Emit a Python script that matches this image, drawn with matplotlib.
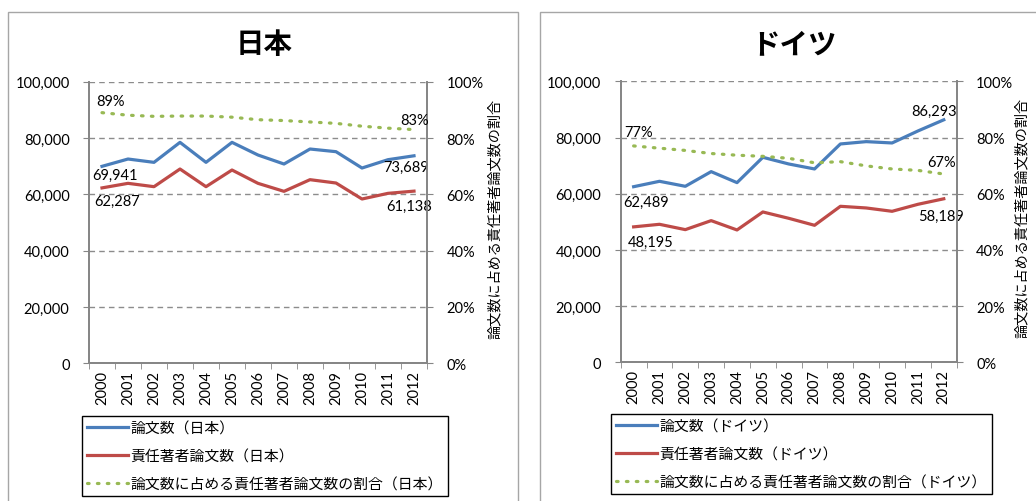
import matplotlib
matplotlib.use("Agg")
import matplotlib.pyplot as plt
from matplotlib.patches import Rectangle
from matplotlib.ticker import FuncFormatter, MultipleLocator, FixedLocator

plt.rcParams['font.family'] = ['Lato', 'Noto Sans CJK JP', 'DejaVu Sans']

years = [str(y) for y in range(2000, 2013)]

jp_total = [69941, 72544, 71360, 78462, 71360, 78462, 73964, 70769, 76095, 75148, 69349, 72308, 73689]
jp_corr = [62287, 63905, 62722, 68994, 62722, 68639, 63905, 61065, 65207, 64024, 58343, 60355, 61138]
jp_ratio = [0.89, 0.881, 0.877, 0.878, 0.878, 0.874, 0.865, 0.862, 0.857, 0.852, 0.842, 0.835, 0.83]

de_total = [62489, 64413, 62633, 67853, 63938, 72954, 70581, 68802, 77699, 78529, 78055, 82325, 86293]
de_corr = [48195, 49110, 47212, 50415, 47094, 53499, 51246, 48754, 55516, 54923, 53737, 56228, 58189]
de_ratio = [0.77, 0.762, 0.754, 0.743, 0.737, 0.733, 0.726, 0.71, 0.714, 0.699, 0.688, 0.683, 0.67]

panels = [
    dict(title='日本', name='日本', total=jp_total, corr=jp_corr, ratio=jp_ratio,
         ax_px=(89, 82.7, 427, 364.3), frame=(8, 13, 518), ylabel_x=495,
         legend_px=(82, 417),
         labels=[('total', 0, (13, -9)), ('corr', 0, (15, -13)), ('ratio', 0, (8, 12)),
                 ('total', 12, (-8, -11)), ('corr', 12, (-5, -15)), ('ratio', 12, (1, 10))]),
    dict(title='ドイツ', name='ドイツ', total=de_total, corr=de_corr, ratio=de_ratio,
         ax_px=(620.7, 82.3, 956.7, 363.3), frame=(540, 13, 1045), ylabel_x=1021.5,
         legend_px=(611, 415),
         labels=[('total', 0, (12, -15)), ('corr', 0, (17, -15)), ('ratio', 0, (5, 14)),
                 ('total', 12, (-10, 9)), ('corr', 12, (-3, -17)), ('ratio', 12, (-2, 12))]),
]

W, H = 1036, 502
fig = plt.figure(figsize=(W / 100, H / 100), dpi=100)

blue = '#4a7ebb'
red = '#be4b48'
green = '#98b954'
grid_c = '#8c8c8c'
spine_c = '#868686'
PT = 0.72  # points per pixel at dpi 100

for p in panels:
    fx0, fy0, fx1 = p['frame']
    fig.patches.append(Rectangle((fx0 / W, 0 - 0.05), (fx1 - fx0) / W, 1 - fy0 / H + 0.05,
                                 transform=fig.transFigure, fill=False,
                                 edgecolor='#a6a6a6', linewidth=1.0, clip_on=False))
    x0, y0, x1, y1 = p['ax_px']
    ax = fig.add_axes([x0 / W, 1 - y1 / H, (x1 - x0) / W, (y1 - y0) / H])
    ax2 = ax.twinx()
    xs = list(range(len(years)))
    l1, = ax.plot(xs, p['total'], color=blue, lw=2.3, solid_joinstyle='round')
    l2, = ax.plot(xs, p['corr'], color=red, lw=2.3, solid_joinstyle='round')
    l3, = ax2.plot(xs, p['ratio'], color=green, lw=2.3, linestyle=(0, (0.5, 2.6)),
                   dash_capstyle='round')
    ax.set_ylim(0, 100000)
    ax2.set_ylim(0, 1.0)
    ax.set_xlim(-0.5, len(years) - 0.5)
    ax.yaxis.set_major_locator(MultipleLocator(20000))
    ax2.yaxis.set_major_locator(MultipleLocator(0.2))
    ax.yaxis.set_major_formatter(FuncFormatter(lambda v, _: f'{int(v):,}'))
    ax2.yaxis.set_major_formatter(FuncFormatter(lambda v, _: f'{v*100:.0f}%'))
    ax.set_xticks(xs)
    ax.set_xticklabels(years, rotation=90, fontsize=10.5)
    ax.xaxis.set_minor_locator(FixedLocator([i - 0.5 for i in range(len(years) + 1)]))
    ax.tick_params(axis='x', which='major', length=0, pad=5)
    ax.tick_params(axis='x', which='minor', length=4, color=spine_c, direction='out')
    ax.tick_params(axis='y', length=4, color=spine_c, labelsize=10.5, pad=10)
    ax2.tick_params(axis='y', length=4, color=spine_c, labelsize=10.5, pad=10)
    ax.grid(axis='y', color=grid_c, linestyle=(0, (4, 3)), linewidth=1.0)
    ax.set_axisbelow(True)
    for a in (ax, ax2):
        a.spines['top'].set_visible(False)
        for s in ('left', 'right', 'bottom'):
            a.spines[s].set_color(spine_c)
            a.spines[s].set_linewidth(1.3)
    fig.text((fx0 + fx1) / 2 / W + 0.001, 1 - 45 / H, p['title'], ha='center', va='center',
             fontsize=20.5, fontweight='bold', family=['Noto Sans CJK JP'])
    fig.text(p['ylabel_x'] / W, 1 - ((y0 + y1) / 2 - 5) / H, '論文数に占める責任著者論文数の割合',
             rotation=90, ha='center', va='center', fontsize=10.2, family=['Noto Sans CJK JP'])
    for kind, i, (dx, dy) in p['labels']:
        if kind == 'ratio':
            v = p['ratio'][i]
            txt = f'{v*100:.0f}%'
            a = ax2
        else:
            v = p[kind][i]
            txt = f'{v:,}'
            a = ax
        a.annotate(txt, (i, v), xytext=(dx * PT, dy * PT), textcoords='offset points',
                   ha='center', va='center', fontsize=10.5)
    lx, ly = p['legend_px']
    n = p['name']
    leg = fig.legend([l1, l2, l3],
                     [f'論文数（{n}）', f'責任著者論文数（{n}）', f'論文数に占める責任著者論文数の割合（{n}）'],
                     loc='upper left', bbox_to_anchor=(lx / W, 1 - ly / H),
                     bbox_transform=fig.transFigure, frameon=True,
                     fancybox=False, edgecolor='black', framealpha=1,
                     handlelength=2.75, handletextpad=0.15, labelspacing=0.93,
                     borderpad=0.35, borderaxespad=0,
                     prop={'family': ['Noto Sans CJK JP'], 'size': 10.7})
    leg.get_frame().set_linewidth(1.0)

fig.savefig('out.png', dpi=100)
